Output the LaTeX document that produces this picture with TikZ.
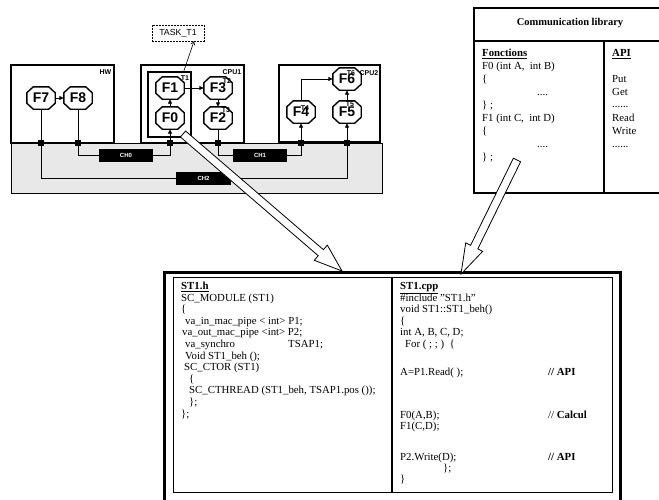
\documentclass[tikz,border=0pt]{standalone}
\usepackage{fontspec}
\setmainfont{Liberation Serif}
\setsansfont{Liberation Sans}
\usetikzlibrary{arrows.meta,calc}
\definecolor{busgray}{RGB}{232,232,232}
\begin{document}
\begin{tikzpicture}[x=1pt,y=-1pt,
  box/.style={draw,line width=2pt,fill=white,inner sep=0pt},
  oct/.style={minimum width=28pt,minimum height=22pt,inner sep=0pt,font=\sffamily\bfseries\fontsize{14}{14}\selectfont},
  octline/.style={line width=1.4pt,line join=miter},
  tlab/.style={inner sep=0pt,font=\sffamily\bfseries\fontsize{7}{7}\selectfont},
  chbox/.style={fill=black,minimum height=13pt,inner sep=0pt,text=white,font=\sffamily\bfseries\fontsize{6}{6}\selectfont},
  sq/.style={fill=black,minimum size=6.5pt,inner sep=0pt},
  conn/.style={line width=0.9pt},
  arr/.style={conn,-{Triangle[length=4.5pt,width=4pt]}},
  code/.style={anchor=base west,inner sep=0pt,font=\fontsize{10.8}{12}\selectfont},
  hollow/.style={draw,line width=0.8pt,fill=white,line join=miter}
]
\useasboundingbox (0,0) rectangle (659,499);
\clip (0,0) rectangle (659,499);

% ---------- Communication library ----------
\draw[line width=2.2pt] (474,8) rectangle (680,193);
\draw[line width=2.5pt] (474,41) -- (680,41);
\draw[line width=1.8pt] (604,41) -- (604,193);
\node[anchor=base,inner sep=0pt,font=\bfseries\fontsize{10.5}{12}\selectfont] (libt) at (570,25.5) {Communication library};
\node[code] (l1) at (482,56.5) {\textbf{\underline{Fonctions}}};
\node[code] (l2) at (482,69.5) {F0 (int A,\ \ int B)};
\node[code] (l3) at (482,82.5) {\{};
\node[code] (l4) at (537,95.5) {....};
\node[code] (l5) at (482,108.5) {\} ;};
\node[code] (l6) at (482,121.5) {F1 (int C,\ \ int D)};
\node[code] (l7) at (482,134.5) {\{};
\node[code] (l8) at (537,147.5) {....};
\node[code] (l9) at (482,160.5) {\} ;};
\node[code] (a1) at (612,56.5) {\textbf{\underline{API}}};
\node[code] (a2) at (612,82.5) {Put};
\node[code] (a3) at (612,95) {Get};
\node[code] (a4) at (612,107) {......};
\node[code] (a5) at (612,121.5) {Read};
\node[code] (a6) at (612,134.5) {Write};
\node[code] (a7) at (612,147.5) {......};

% ---------- Architecture ----------
\node[draw,fill=busgray,line width=0.8pt,minimum width=371pt,minimum height=50pt,inner sep=0pt] (bus) at (196.5,168) {};
\node[box,minimum width=103pt,minimum height=78pt] (HW) at (62.5,104) {};
\node[box,minimum width=103pt,minimum height=78pt] (CPU1) at (192.5,104) {};
\node[box,minimum width=101pt,minimum height=77pt] (CPU2) at (329.5,103.5) {};
\node[draw,line width=1.5pt,minimum width=43pt,minimum height=65pt,inner sep=0pt] (T1box) at (169.5,104.5) {};

\node[oct] (F7) at (41,98) {F7};
\node[oct] (F8) at (78,98) {F8};
\node[oct] (F1) at (170,88) {F1};
\node[oct] (F0) at (170,118) {F0};
\node[oct] (F3) at (218,88) {F3};
\node[oct] (F2) at (218,118) {F2};
\node[oct] (F4) at (301,112) {F4};
\node[oct] (F5) at (347,112) {F5};
\node[oct] (F6) at (347,79) {F6};
\foreach \n in {F0,F1,F2,F3,F4,F5,F6,F7,F8}
  \draw[octline] ($(\n.north west)+(6.5,0)$) -- ($(\n.north east)+(-6.5,0)$) -- ($(\n.north east)+(0,6)$)
    -- ($(\n.south east)+(0,-6)$) -- ($(\n.south east)+(-6.5,0)$) -- ($(\n.south west)+(6.5,0)$)
    -- ($(\n.south west)+(0,-6)$) -- ($(\n.north west)+(0,6)$) -- cycle;

\draw[arr] (F7) -- (F8);
\draw[arr] (F0) -- (F1);
\draw[arr] (F1) -- (F3);
\draw[arr] (F3) -- (F2);
\draw[arr] (F5) -- (F6);
\draw[arr] (F4.north) |- (F6.west);

\node[chbox,minimum width=54pt] (CH0) at (126,155.5) {CH0};
\node[chbox,minimum width=54pt] (CH1) at (260,155.5) {CH1};
\node[chbox,minimum width=55pt] (CH2) at (203.5,178.5) {CH2};

\draw[conn] (F8.south) |- (CH0.west);
\draw[arr] (CH0.east) -| (F0.south);
\draw[conn] (F2.south) |- (CH1.west);
\draw[arr] (CH1.east) -| (F4.south);
\draw[conn] (F7.south) |- (CH2.west);
\draw[arr] (CH2.east) -| (F5.south);

\node[sq] (j1) at (41,143) {};
\node[sq] (j2) at (78,143) {};
\node[sq] (j3) at (170,143) {};
\node[sq] (j4) at (218,143) {};
\node[sq] (j5) at (301,143) {};
\node[sq] (j6) at (347,143) {};

\node[tlab] (hwl) at (105.5,72) {HW};
\node[tlab] (cpu1l) at (232,72) {CPU1};
\node[tlab] (cpu2l) at (369,73) {CPU2};
\node[tlab] (t1) at (185,78) {T1};
\node[tlab] (t2) at (227,81) {T2};
\node[tlab] (t3) at (226,110) {T3};
\node[tlab] (t4) at (305,108) {T4};
\node[tlab] (t5) at (350,104) {T5};
\node[tlab] (t6) at (351,73) {T6};

\node[draw,line width=0.6pt,dash pattern=on 2pt off 1pt,minimum width=52pt,minimum height=16pt,inner sep=0pt,font=\sffamily\fontsize{8.8}{9}\selectfont] (task) at (178,33) {TASK\_T1};
\draw[line width=0.6pt,-{Straight Barb[length=3pt,width=4pt]}] ([xshift=-8pt]T1box.north east) -- ([xshift=16pt]task.south);

% ---------- ST1 module ----------
\draw[line width=3pt] (164,272) rectangle (620,530);
\draw[line width=0.8pt] (173,277) rectangle (391,492);
\draw[line width=0.8pt] (392,277) rectangle (612,492);
\draw[line width=1.6pt] (391.5,277) -- (391.5,492);

\node[code] (h1) at (181,289.5) {\textbf{\underline{ST1.h}}};
\node[code] (h2) at (181,301.1) {SC\_MODULE (ST1)};
\node[code] (h3) at (181,312.7) {\{};
\node[code] (h4) at (185,324.3) {va\_in\_mac\_pipe < int> P1;};
\node[code] (h5) at (182,335.9) {va\_out\_mac\_pipe <int> P2;};
\node[code] (h6) at (185,347.5) {va\_synchro};
\node[code] (h6b) at (288,347.5) {TSAP1;};
\node[code] (h7) at (185,359.1) {Void ST1\_beh ();};
\node[code] (h8) at (184,370.7) {SC\_CTOR (ST1)};
\node[code] (h9) at (189,382.3) {\{};
\node[code] (h10) at (189,393.9) {SC\_CTHREAD (ST1\_beh, TSAP1.pos ());};
\node[code] (h11) at (189,405.5) {\};};
\node[code] (h12) at (181,417.1) {\};};

\node[code] (c1) at (400,289.5) {\textbf{\underline{ST1.cpp}}};
\node[code] (c2) at (400,301.1) {\#include "ST1.h"};
\node[code] (c3) at (400,312.7) {void ST1::ST1\_beh()};
\node[code] (c4) at (400,324.3) {\{};
\node[code] (c5) at (400,335.9) {int A, B, C, D;};
\node[code] (c6) at (405,347.5) {For ( ; ; ) \ \{};
\node[code] (c7) at (400,375) {A=P1.Read( );};
\node[code] (c7b) at (548,375) {\textbf{// API}};
\node[code] (c8) at (400,418) {F0(A,B);};
\node[code] (c8b) at (548,418) {// \textbf{Calcul}};
\node[code] (c9) at (400,429.5) {F1(C,D);};
\node[code] (c10) at (400,460.5) {P2.Write(D);};
\node[code] (c10b) at (548,460.5) {\textbf{// API}};
\node[code] (c11) at (443,471) {\};};
\node[code] (c12) at (400,482.5) {\}};

% ---------- hollow arrows ----------
\draw[hollow] (180.4,137) -- (318.2,255.7) -- (314.3,260.3) -- (342,271) -- (327.3,245.1) -- (323.4,249.7) -- (185.6,131) -- cycle;
\draw[hollow] (513.4,158.2) -- (470.6,245.3) -- (465.7,242.9) -- (461,274) -- (482.7,251.3) -- (477.8,248.9) -- (520.6,161.8) -- cycle;
\end{tikzpicture}
\end{document}
